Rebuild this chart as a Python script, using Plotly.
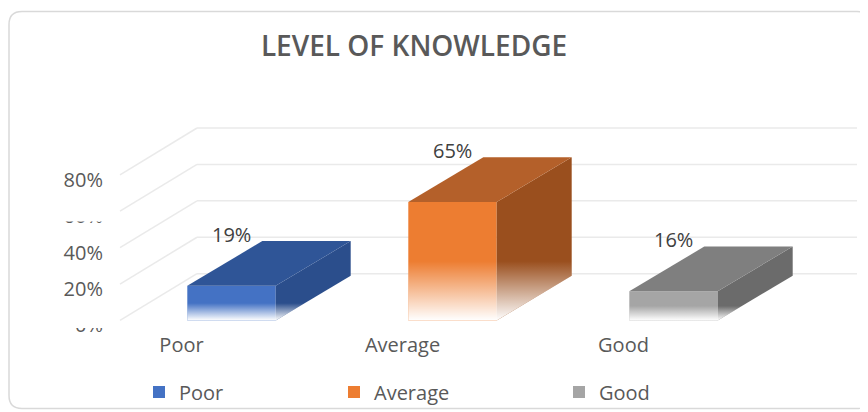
import plotly.graph_objects as go

# ---------------- data ----------------
categories = ["Poor", "Average", "Good"]
values = [19, 65, 16]
value_labels = ["19%", "65%", "16%"]
tick_values = [0, 20, 40, 60, 80]
tick_labels = ["0%", "20%", "40%", "60%", "80%"]
title_text = "LEVEL OF KNOWLEDGE"

front_colors = ["#4472C4", "#ED7D31", "#A5A5A5"]
top_colors = ["#2F5597", "#B4602A", "#7F7F7F"]
side_colors = ["#2B4E8C", "#9A4F1E", "#6B6B6B"]

# ---------------- geometry (layout only) ----------------
# target positions are given in window pixels; the page body adds an 8 px offset
OFF = 8
WIN_W, WIN_H = 868, 412
W, H = WIN_W - OFF, WIN_H - OFF


def sx(x):
    return x - OFF


def sy(y):
    return y - OFF


L = sx(108)                       # left margin (room for y tick labels)
PW = W - L
X0_PX, X_UNIT = sx(231.5), 221.0  # pixel of category 0 centre, px per category
Y0_PX, Y_UNIT = sy(322.0), 1.83   # pixel of 0 %, px per percent
x_range = [(L - X0_PX) / X_UNIT, (W - X0_PX) / X_UNIT]
y_range = [(Y0_PX - H) / Y_UNIT, Y0_PX / Y_UNIT]

BAR_W = 0.4
BAR_DX = 75 / X_UNIT
BAR_DY = 45 / Y_UNIT
WALL_DX = 77 / X_UNIT
WALL_DY = 47 / Y_UNIT
WALL_LEFT = (sx(120) - X0_PX) / X_UNIT
WALL_RIGHT = (sx(857) - X0_PX) / X_UNIT
LABEL_SHIFT = 50 / X_UNIT     # category labels sit left of the bars (perspective)

FONT = "Open Sans"
GREY = "#595959"


def px(x):  # window px -> paper x
    return (sx(x) - L) / PW


def py(y):  # window px -> paper y
    return 1 - sy(y) / H


fig = go.Figure()

legend_names = ["legend", "legend2", "legend3"]
for i, (cat, v) in enumerate(zip(categories, values)):
    xl = i - BAR_W / 2
    xr = i + BAR_W / 2
    # front face
    fig.add_trace(go.Bar(
        x=[i], y=[v], width=BAR_W, name=cat,
        marker=dict(color=front_colors[i], line=dict(width=0)),
        legend=legend_names[i], hoverinfo="skip"))
    # side face
    fig.add_trace(go.Scatter(
        x=[xr, xr, xr + BAR_DX, xr + BAR_DX, xr],
        y=[0, v, v + BAR_DY, BAR_DY, 0],
        mode="lines", fill="toself", fillcolor=side_colors[i],
        line=dict(width=0, color="rgba(0,0,0,0)"),
        showlegend=False, hoverinfo="skip"))
    # top face
    fig.add_trace(go.Scatter(
        x=[xl, xr, xr + BAR_DX, xl + BAR_DX, xl],
        y=[v, v, v + BAR_DY, v + BAR_DY, v],
        mode="lines", fill="toself", fillcolor=top_colors[i],
        line=dict(width=0, color="rgba(0,0,0,0)"),
        showlegend=False, hoverinfo="skip"))
    # white fade at the bottom of front + side faces
    fig.add_trace(go.Scatter(
        x=[xl, xr, xr + BAR_DX, xr + BAR_DX, xr, xl, xl],
        y=[0, 0, BAR_DY, v + BAR_DY, v, v, 0],
        mode="lines", fill="toself",
        fillgradient=dict(type="vertical",
                          colorscale=[[0, "rgba(255,255,255,1)"],
                                      [1, "rgba(255,255,255,0)"]],
                          start=0, stop=v * 0.5),
        line=dict(width=0, color="rgba(0,0,0,0)"),
        showlegend=False, hoverinfo="skip"))

# invisible trace carrying the category axis
fig.add_trace(go.Scatter(x=[0, 1, 2], y=values, xaxis="x2", mode="none",
                         showlegend=False, hoverinfo="skip"))

shapes = []
# 3-D gridlines: left wall + back wall
for t in tick_values:
    shapes.append(dict(type="line", xref="x", yref="y", layer="below",
                       x0=WALL_LEFT, y0=t, x1=WALL_LEFT + WALL_DX, y1=t + WALL_DY,
                       line=dict(color="#EAEAEA", width=1.5)))
    shapes.append(dict(type="line", xref="x", yref="y", layer="below",
                       x0=WALL_LEFT + WALL_DX, y0=t + WALL_DY, x1=WALL_RIGHT, y1=t + WALL_DY,
                       line=dict(color="#EAEAEA", width=1.5)))

# rounded chart border
bx0, by0, bx1, by1, r = 9, 11.5, 870, 410.5, 13
path = (f"M {px(bx0 + r)},{py(by0)} L {px(bx1 - r)},{py(by0)} "
        f"Q {px(bx1)},{py(by0)} {px(bx1)},{py(by0 + r)} "
        f"L {px(bx1)},{py(by1 - r)} Q {px(bx1)},{py(by1)} {px(bx1 - r)},{py(by1)} "
        f"L {px(bx0 + r)},{py(by1)} Q {px(bx0)},{py(by1)} {px(bx0)},{py(by1 - r)} "
        f"L {px(bx0)},{py(by0 + r)} Q {px(bx0)},{py(by0)} {px(bx0 + r)},{py(by0)} Z")
shapes.append(dict(type="path", xref="paper", yref="paper", path=path,
                   line=dict(color="#D9D9D9", width=1.5), layer="above"))

# clipped text bands as in the source picture
for (ya, yb) in [(196, 222.5), (312, 329.5), (333.5, 345)]:
    shapes.append(dict(type="rect", xref="paper", yref="paper", layer="above",
                       x0=px(45), x1=px(106), y0=py(yb), y1=py(ya),
                       fillcolor="white", line=dict(width=0)))

annotations = []
for i, v in enumerate(values):
    annotations.append(dict(x=i, y=v + BAR_DY, xref="x", yref="y",
                            text=value_labels[i], showarrow=False,
                            yanchor="middle", yshift=7,
                            font=dict(family=FONT, size=20, color="#404040")))

legend_common = dict(orientation="h", xanchor="left", yanchor="middle",
                     bgcolor="rgba(0,0,0,0)", borderwidth=0,
                     font=dict(family=FONT, size=20, color=GREY))
legend_left_px = [139, 334, 559]

fig.update_layout(
    width=W, height=H,
    margin=dict(l=L, r=0, t=0, b=0, pad=0),
    paper_bgcolor="white", plot_bgcolor="rgba(0,0,0,0)",
    hovermode=False,
    barmode="overlay",
    title=dict(text=title_text, x=sx(414) / W, y=1 - sy(46) / H,
               xanchor="center", yanchor="middle",
               font=dict(family=FONT, size=28, color=GREY, weight=600)),
    xaxis=dict(range=x_range, visible=False, fixedrange=True),
    xaxis2=dict(overlaying="x", anchor="free", position=py(333),
                range=[x_range[0] + LABEL_SHIFT, x_range[1] + LABEL_SHIFT],
                tickvals=[0, 1, 2], ticktext=categories, ticks="",
                showgrid=False, zeroline=False, showline=False,
                tickfont=dict(family=FONT, size=20, color=GREY), fixedrange=True),
    yaxis=dict(range=y_range, tickvals=tick_values, ticktext=tick_labels,
               ticks="", showgrid=False, zeroline=False, showline=False,
               ticklabelshift=5, ticklabelstandoff=4,
               tickfont=dict(family=FONT, size=20, color=GREY), fixedrange=True),
    shapes=shapes,
    annotations=annotations,
    legend=dict(x=px(legend_left_px[0]), y=py(394), **legend_common),
    legend2=dict(x=px(legend_left_px[1]), y=py(394), **legend_common),
    legend3=dict(x=px(legend_left_px[2]), y=py(394), **legend_common),
)

fig.write_html("out.html", config={"displayModeBar": False})
